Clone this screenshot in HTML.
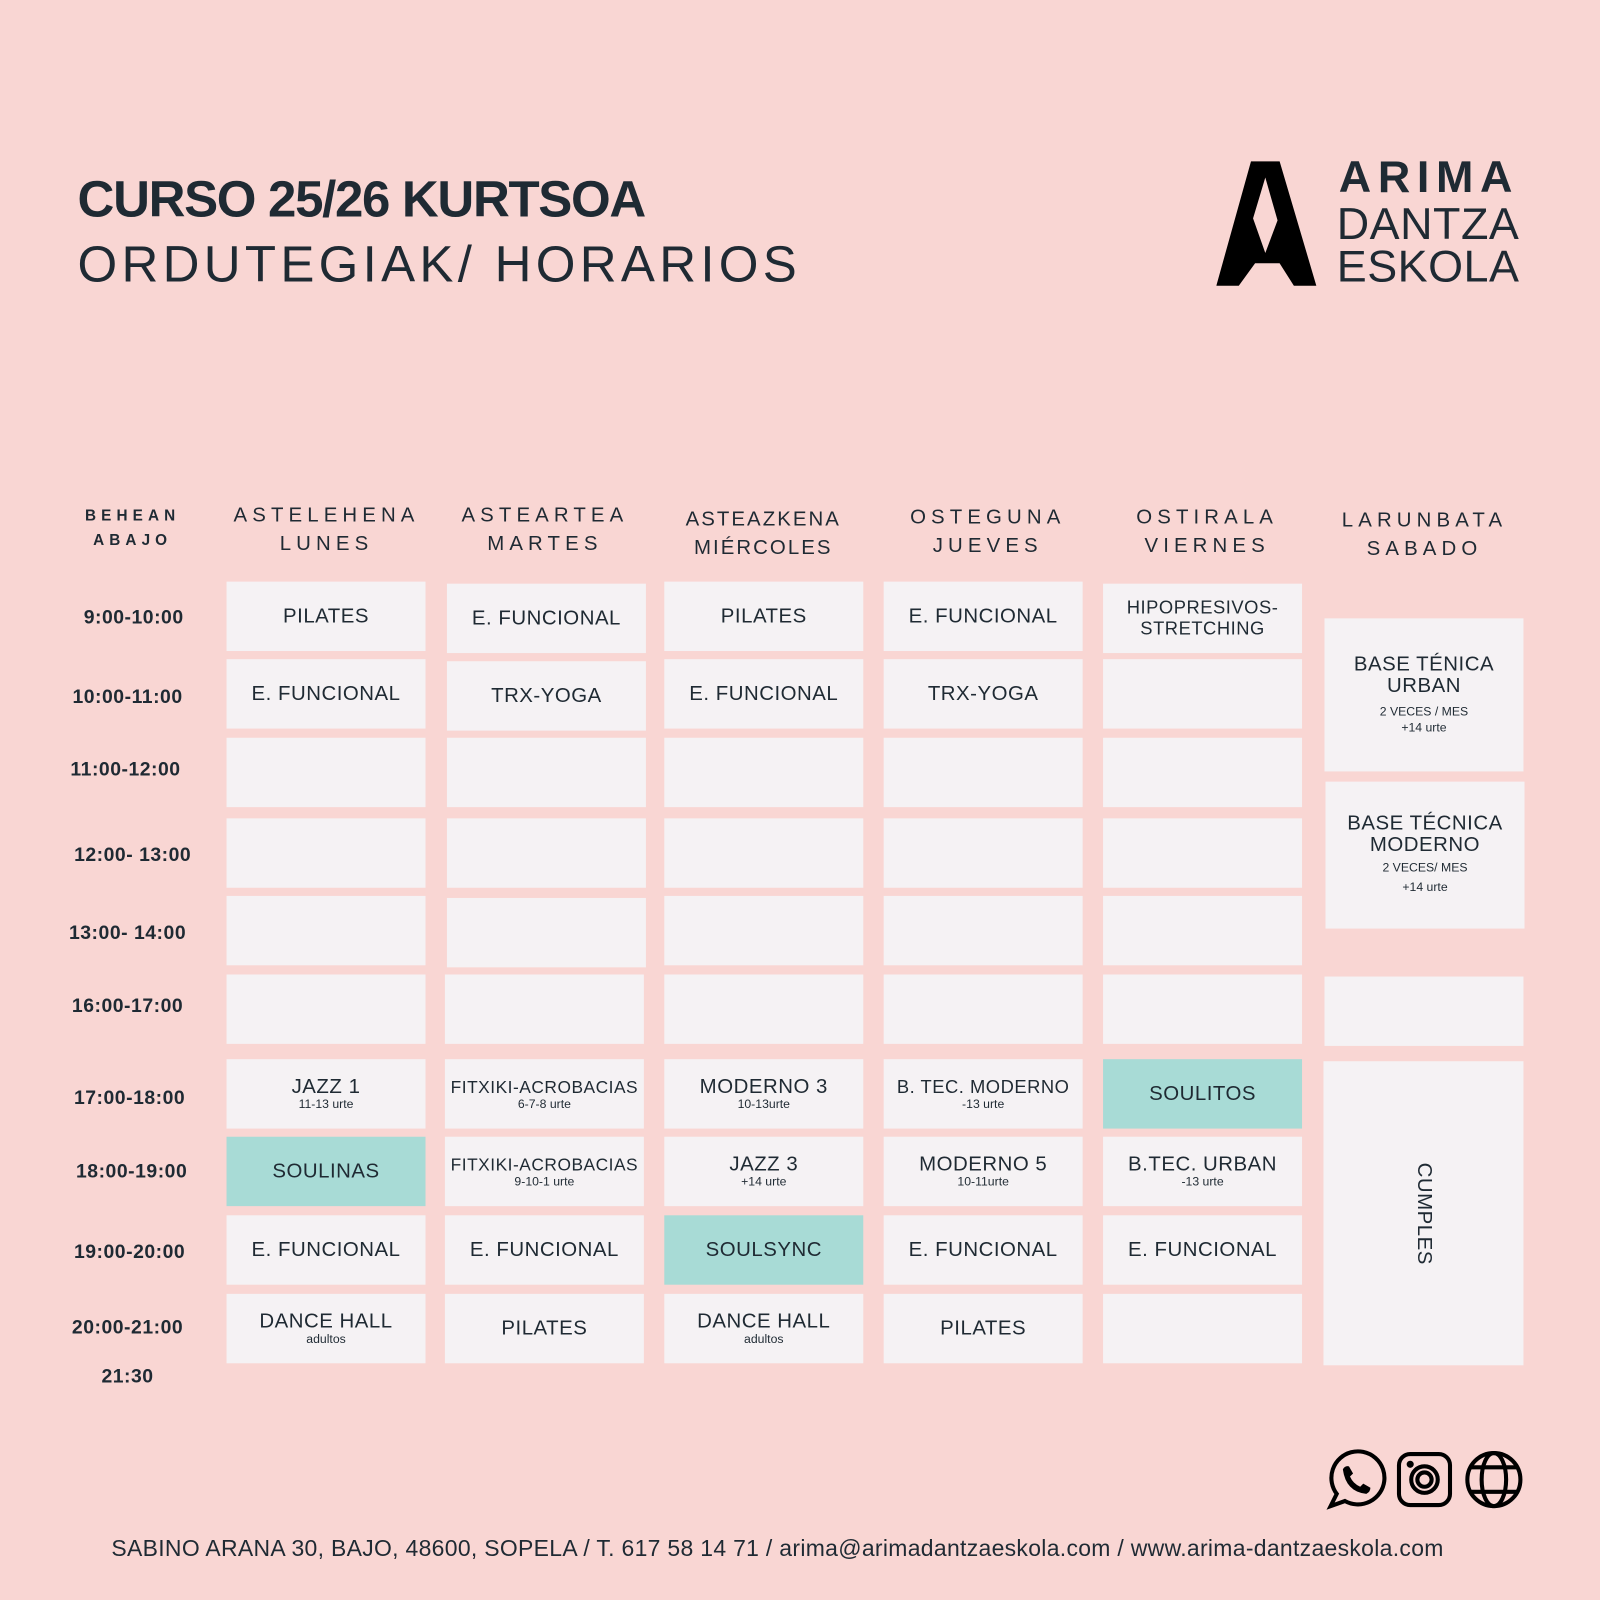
<!DOCTYPE html>
<html><head><meta charset="utf-8"><style>
html,body{margin:0;padding:0;background:#f9d6d3;width:1600px;height:1600px;overflow:hidden}
#w{position:absolute;left:0;top:0;width:1568px;height:1568px;transform:scale(1.020408);transform-origin:0 0;font-family:"Liberation Sans","DejaVu Sans",sans-serif;color:#1f2a33}
.c{position:absolute;background:#f5f2f4;display:flex;flex-direction:column;align-items:center;justify-content:center;text-align:center;font-size:20px;line-height:21px;letter-spacing:0.5px}
.t{background:#a8dbd6}
.s{font-size:12px;line-height:13px;letter-spacing:0}
.h{position:absolute;text-align:center;font-size:20px;letter-spacing:5px;line-height:28px;width:220px}
.tm{position:absolute;width:150px;text-align:center;font-weight:bold;font-size:19px;letter-spacing:0.5px}
</style></head><body><div id="w">
<div style="position:absolute;left:76px;top:166px;font-size:50px;font-weight:bold;letter-spacing:-1.3px">CURSO 25/26 KURTSOA</div>
<div style="position:absolute;left:76px;top:230px;font-size:50px;letter-spacing:4.2px">ORDUTEGIAK/ HORARIOS</div>
<svg style="position:absolute;left:1192px;top:158px" width="100" height="124" viewBox="0 0 100 124"><path d="M0 122 L34 0 L62 0 L98 122 L76 122 L62 100 L38 100 L22 122 Z M36 56 L48 16 L60 58 L48 90 Z" fill="#000" fill-rule="evenodd"/></svg>
<div style="position:absolute;left:1312px;top:152px;font-size:44px;font-weight:bold;letter-spacing:6.5px;line-height:44px">ARIMA</div>
<div style="position:absolute;left:1310px;top:198px;font-size:44px;letter-spacing:0.5px;line-height:44px">DANTZA</div>
<div style="position:absolute;left:1310px;top:240px;font-size:44px;letter-spacing:0.5px;line-height:44px">ESKOLA</div>

<div class="h" style="left:20px;top:494px;font-size:15px;font-weight:bold;line-height:24px;width:220px">BEHEAN<br>ABAJO</div>
<div class="h" style="left:210px;top:491px">ASTELEHENA<br>LUNES</div>
<div class="h" style="left:424px;top:491px">ASTEARTEA<br>MARTES</div>
<div class="h" style="left:638px;top:495px;letter-spacing:2px">ASTEAZKENA<br>MIÉRCOLES</div>
<div class="h" style="left:858px;top:493px">OSTEGUNA<br>JUEVES</div>
<div class="h" style="left:1073px;top:493px">OSTIRALA<br>VIERNES</div>
<div class="h" style="left:1286px;top:496px">LARUNBATA<br>SABADO</div>

<div class="tm" style="left:56px;top:595px">9:00-10:00</div>
<div class="tm" style="left:50px;top:673px">10:00-11:00</div>
<div class="tm" style="left:48px;top:744px">11:00-12:00</div>
<div class="tm" style="left:55px;top:828px">12:00- 13:00</div>
<div class="tm" style="left:50px;top:904px">13:00- 14:00</div>
<div class="tm" style="left:50px;top:976px">16:00-17:00</div>
<div class="tm" style="left:52px;top:1066px">17:00-18:00</div>
<div class="tm" style="left:54px;top:1138px">18:00-19:00</div>
<div class="tm" style="left:52px;top:1217px">19:00-20:00</div>
<div class="tm" style="left:50px;top:1291px">20:00-21:00</div>
<div class="tm" style="left:50px;top:1339px">21:30</div>

<!-- Mon -->
<div class="c" style="left:222px;top:570px;width:195px;height:68px">PILATES</div>
<div class="c" style="left:222px;top:646px;width:195px;height:68px">E. FUNCIONAL</div>
<div class="c" style="left:222px;top:723px;width:195px;height:68px"></div>
<div class="c" style="left:222px;top:802px;width:195px;height:68px"></div>
<div class="c" style="left:222px;top:878px;width:195px;height:68px"></div>
<div class="c" style="left:222px;top:955px;width:195px;height:68px"></div>
<div class="c" style="left:222px;top:1038px;width:195px;height:68px">JAZZ 1<span class="s">11-13 urte</span></div>
<div class="c t" style="left:222px;top:1114px;width:195px;height:68px">SOULINAS</div>
<div class="c" style="left:222px;top:1191px;width:195px;height:68px">E. FUNCIONAL</div>
<div class="c" style="left:222px;top:1268px;width:195px;height:68px">DANCE HALL<span class="s">adultos</span></div>
<!-- Tue -->
<div class="c" style="left:438px;top:572px;width:195px;height:68px">E. FUNCIONAL</div>
<div class="c" style="left:438px;top:648px;width:195px;height:68px">TRX-YOGA</div>
<div class="c" style="left:438px;top:723px;width:195px;height:68px"></div>
<div class="c" style="left:438px;top:802px;width:195px;height:68px"></div>
<div class="c" style="left:438px;top:880px;width:195px;height:68px"></div>
<div class="c" style="left:436px;top:955px;width:195px;height:68px"></div>
<div class="c" style="left:436px;top:1038px;width:195px;height:68px;font-size:17px">FITXIKI-ACROBACIAS<span class="s">6-7-8 urte</span></div>
<div class="c" style="left:436px;top:1114px;width:195px;height:68px;font-size:17px">FITXIKI-ACROBACIAS<span class="s">9-10-1 urte</span></div>
<div class="c" style="left:436px;top:1191px;width:195px;height:68px">E. FUNCIONAL</div>
<div class="c" style="left:436px;top:1268px;width:195px;height:68px">PILATES</div>
<!-- Wed -->
<div class="c" style="left:651px;top:570px;width:195px;height:68px">PILATES</div>
<div class="c" style="left:651px;top:646px;width:195px;height:68px">E. FUNCIONAL</div>
<div class="c" style="left:651px;top:723px;width:195px;height:68px"></div>
<div class="c" style="left:651px;top:802px;width:195px;height:68px"></div>
<div class="c" style="left:651px;top:878px;width:195px;height:68px"></div>
<div class="c" style="left:651px;top:955px;width:195px;height:68px"></div>
<div class="c" style="left:651px;top:1038px;width:195px;height:68px">MODERNO 3<span class="s">10-13urte</span></div>
<div class="c" style="left:651px;top:1114px;width:195px;height:68px">JAZZ 3<span class="s">+14 urte</span></div>
<div class="c t" style="left:651px;top:1191px;width:195px;height:68px">SOULSYNC</div>
<div class="c" style="left:651px;top:1268px;width:195px;height:68px">DANCE HALL<span class="s">adultos</span></div>
<!-- Thu -->
<div class="c" style="left:866px;top:570px;width:195px;height:68px">E. FUNCIONAL</div>
<div class="c" style="left:866px;top:646px;width:195px;height:68px">TRX-YOGA</div>
<div class="c" style="left:866px;top:723px;width:195px;height:68px"></div>
<div class="c" style="left:866px;top:802px;width:195px;height:68px"></div>
<div class="c" style="left:866px;top:878px;width:195px;height:68px"></div>
<div class="c" style="left:866px;top:955px;width:195px;height:68px"></div>
<div class="c" style="left:866px;top:1038px;width:195px;height:68px;font-size:18px">B. TEC. MODERNO<span class="s">-13 urte</span></div>
<div class="c" style="left:866px;top:1114px;width:195px;height:68px">MODERNO 5<span class="s">10-11urte</span></div>
<div class="c" style="left:866px;top:1191px;width:195px;height:68px">E. FUNCIONAL</div>
<div class="c" style="left:866px;top:1268px;width:195px;height:68px">PILATES</div>
<!-- Fri -->
<div class="c" style="left:1081px;top:572px;width:195px;height:68px;font-size:18px">HIPOPRESIVOS-<br>STRETCHING</div>
<div class="c" style="left:1081px;top:646px;width:195px;height:68px"></div>
<div class="c" style="left:1081px;top:723px;width:195px;height:68px"></div>
<div class="c" style="left:1081px;top:802px;width:195px;height:68px"></div>
<div class="c" style="left:1081px;top:878px;width:195px;height:68px"></div>
<div class="c" style="left:1081px;top:955px;width:195px;height:68px"></div>
<div class="c t" style="left:1081px;top:1038px;width:195px;height:68px">SOULITOS</div>
<div class="c" style="left:1081px;top:1114px;width:195px;height:68px">B.TEC. URBAN<span class="s">-13 urte</span></div>
<div class="c" style="left:1081px;top:1191px;width:195px;height:68px">E. FUNCIONAL</div>
<div class="c" style="left:1081px;top:1268px;width:195px;height:68px"></div>
<!-- Sat -->
<div class="c" style="left:1298px;top:606px;width:195px;height:150px">BASE TÉNICA<br>URBAN<span class="s" style="margin-top:6px;line-height:16px">2 VECES / MES<br>+14 urte</span></div>
<div class="c" style="left:1299px;top:766px;width:195px;height:144px">BASE TÉCNICA<br>MODERNO<span class="s" style="margin-top:2px;line-height:19px">2 VECES/ MES<br>+14 urte</span></div>
<div class="c" style="left:1298px;top:957px;width:195px;height:68px"></div>
<div class="c" style="left:1297px;top:1040px;width:196px;height:298px"><span style="transform:rotate(90deg);display:block;white-space:nowrap">CUMPLES</span></div>

<svg style="position:absolute;left:1298px;top:1420px" width="200" height="62" viewBox="0 0 200 62" fill="none" stroke="#000" stroke-width="4">
<path d="M6 56 L12 44 A26 26 0 1 1 20 51 Z"/>
<path d="M18 20 q2 -4 6 -3 l4 7 -3 3 q3 7 10 10 l3 -3 7 4 q0 4 -4 6 q-20 -2 -23 -24z" fill="#000" stroke="none"/>
<rect x="73" y="5" width="50" height="50" rx="11"/><circle cx="98" cy="30" r="13"/><circle cx="98" cy="30" r="7"/><circle cx="84" cy="15" r="1.5" fill="#000"/>
<circle cx="166" cy="30" r="26"/><ellipse cx="166" cy="30" rx="12" ry="26"/><path d="M142 18 h48 M142 42 h48"/>
</svg>
<div style="position:absolute;left:0;width:1524px;text-align:center;top:1505px;font-size:22.5px;letter-spacing:0.3px">SABINO ARANA 30, BAJO, 48600, SOPELA / T. 617 58 14 71 / arima@arimadantzaeskola.com / www.arima-dantzaeskola.com</div>
</div></body></html>
